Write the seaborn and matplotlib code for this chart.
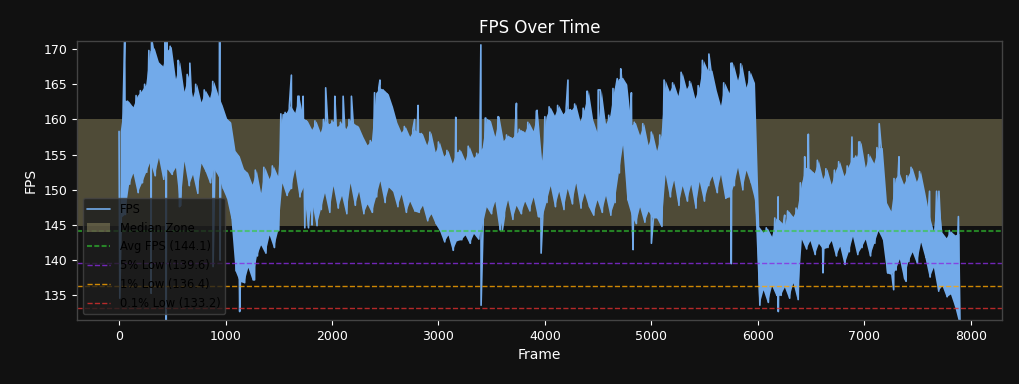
import numpy as np
import pandas as pd
import seaborn as sns
import matplotlib.pyplot as plt

# FPS trace in 40-frame blocks: upper and lower edge of the band
fps_high = [
    158.3, 162.8, 162.6, 161.8, 163.4, 164.1, 165.0, 169.8, 170.2, 168.2,
    167.6, 169.8, 170.4, 165.8, 168.2, 164.0, 166.4, 163.2, 165.0, 162.5,
    164.2, 163.1, 165.4, 163.5, 162.0, 160.2, 159.6, 155.6, 154.8, 153.0,
    152.4, 150.8, 152.8, 149.6, 153.2, 151.6, 153.4, 152.0, 160.8, 161.0,
    162.0, 161.0, 163.3, 160.2, 159.8, 158.6, 159.8, 158.2, 160.0, 159.4,
    159.8, 159.0, 159.6, 158.7, 160.0, 159.4, 159.0, 157.6, 156.4, 157.0,
    163.8, 164.5, 164.2, 163.6, 161.8, 159.6, 158.2, 159.0, 157.6, 158.6,
    158.2, 158.0, 156.4, 158.2, 155.4, 156.8, 154.8, 155.6, 153.8, 155.4,
    155.6, 154.2, 156.2, 154.6, 155.2, 156.0, 160.2, 159.8, 157.6, 160.4,
    157.0, 157.8, 157.4, 158.0, 158.6, 158.2, 159.6, 158.4, 161.2, 154.2,
    160.4, 161.8, 160.6, 162.0, 160.8, 161.6, 161.4, 162.2, 159.8, 161.6,
    164.0, 160.0, 158.2, 164.2, 159.4, 160.6, 164.4, 165.8, 166.0, 165.0,
    159.2, 159.6, 157.8, 159.4, 156.4, 158.2, 155.6, 157.8, 165.6, 164.0,
    165.2, 163.4, 166.7, 164.4, 165.4, 163.0, 164.8, 168.4, 167.0, 167.0,
    164.2, 162.0, 165.2, 163.8, 168.0, 165.6, 167.9, 164.6, 166.8, 165.2,
    144.8, 144.0, 144.6, 143.4, 146.0, 145.6, 145.0, 147.0, 146.2, 147.4,
    151.0, 153.2, 153.0, 152.4, 154.2, 151.6, 153.0, 150.8, 152.8, 154.0,
    152.0, 153.4, 154.6, 154.8, 156.8, 153.2, 155.0, 153.8, 156.0, 156.0,
    148.2, 147.0, 151.6, 152.4, 150.8, 152.0, 153.2, 151.2, 152.6, 149.6,
    146.4, 144.2, 149.8, 144.0, 143.2, 144.2, 143.6, 143.8,
]
fps_low = [
    146.0, 146.5, 150.8, 152.4, 149.6, 151.0, 152.5, 154.0, 152.0, 154.6,
    151.5, 153.0, 152.2, 153.2, 147.8, 154.1, 150.6, 152.2, 149.5, 153.8,
    152.6, 151.0, 153.0, 152.0, 150.2, 148.8, 146.0, 138.5, 137.0, 136.8,
    139.0, 137.2, 140.6, 142.2, 141.0, 143.6, 141.8, 144.2, 151.0, 149.2,
    150.2, 153.0, 149.0, 150.4, 144.6, 148.2, 144.9, 147.2, 149.6, 146.8,
    150.6, 147.4, 149.2, 146.6, 151.0, 147.8, 149.8, 146.6, 148.0, 146.8,
    149.0, 151.3, 148.2, 150.4, 149.8, 147.6, 149.4, 146.8, 148.4, 147.0,
    146.8, 147.8, 145.6, 146.6, 145.2, 144.2, 142.6, 143.6, 141.4, 142.8,
    142.9, 143.6, 142.4, 143.8, 143.0, 145.0, 147.6, 146.6, 148.4, 144.3,
    146.2, 148.6, 145.8, 147.8, 146.6, 148.4, 147.0, 149.0, 146.2, 146.0,
    148.2, 150.6, 147.6, 149.8, 147.2, 150.2, 148.0, 151.0, 147.4, 149.6,
    147.6, 146.4, 148.6, 146.8, 149.2, 146.4, 148.2, 152.4, 156.4, 148.6,
    146.5, 145.2, 147.6, 145.4, 147.0, 146.0, 146.0, 144.8, 152.2, 149.0,
    151.4, 147.8, 150.6, 148.4, 150.8, 147.4, 151.2, 148.4, 150.6, 152.0,
    149.6, 152.2, 148.8, 149.0, 150.6, 153.2, 150.0, 152.8, 151.0, 148.6,
    133.6, 135.8, 134.0, 136.4, 135.0, 135.0, 136.2, 134.6, 136.8, 134.4,
    143.0, 141.6, 142.8, 140.8, 142.4, 141.6, 141.8, 142.8, 140.6, 142.0,
    139.4, 141.2, 143.4, 140.8, 141.8, 143.0, 140.6, 142.4, 144.2, 143.0,
    138.2, 138.0, 138.6, 140.2, 137.4, 139.8, 141.2, 139.6, 142.6, 140.4,
    137.6, 139.0, 135.6, 136.4, 134.8, 135.2, 133.4, 131.0,
]
# single-frame outliers sticking out of the band
spike_frames = [7, 53, 301, 305, 431, 443, 447, 555, 567, 665, 883, 945, 949,
                1133, 1273, 1619, 1691, 1729, 1745, 1813, 1941, 2027, 2105, 2183,
                2451, 2777, 2809, 3041, 3163, 3399, 3401, 3445, 3569, 3601, 3733,
                3927, 3965, 4217, 4395, 4501, 4665, 4713, 4813, 4829, 5001, 5541,
                5749, 5751, 6191, 6193, 6253, 6299, 6441, 6475, 6613, 6885, 6949,
                7141, 7277, 7327, 7394, 7614, 7702, 7885]
spike_values = [134.6, 171.5, 135.3, 171.5, 171.2, 131.0, 171.5, 168.4, 147.6, 168.0,
                139.1, 171.5, 140.0, 132.7, 137.2, 166.3, 163.3, 163.3, 144.6, 145.0,
                164.5, 163.3, 163.3, 163.3, 165.6, 160.0, 162.0, 144.5, 160.3, 170.6,
                133.6, 160.2, 160.3, 144.3, 162.3, 161.3, 141.0, 165.6, 164.0, 164.2,
                164.4, 167.2, 163.8, 141.5, 142.4, 169.3, 168.0, 139.5, 149.0, 132.7,
                146.4, 146.4, 154.7, 157.9, 138.2, 157.5, 156.8, 159.4, 135.8, 154.7,
                137.0, 149.8, 149.8, 146.2]

median_zone = (144.9, 160.0)
stat_labels = ["Avg FPS (144.1)", "5% Low (139.6)", "1% Low (136.4)", "0.1% Low (133.2)"]
stat_values = [144.1, 139.6, 136.4, 133.2]
stat_colors = ["limegreen", "#8a2be2", "orange", "#e03030"]

line_color = "#72aaea"

block_start = np.arange(0, 40 * len(fps_high), 40)
df = pd.concat([
    pd.DataFrame({"Frame": block_start, "FPS": fps_high}),
    pd.DataFrame({"Frame": block_start + 20, "FPS": fps_low}),
    pd.DataFrame({"Frame": spike_frames, "FPS": spike_values}),
]).sort_values("Frame", kind="stable")

sns.set_style("dark", {"axes.facecolor": "#111111", "figure.facecolor": "#111111",
                       "axes.edgecolor": "#444444", "xtick.bottom": True, "ytick.left": True})

fig, ax = plt.subplots(figsize=(10.2, 3.84), dpi=100)
fig.subplots_adjust(left=0.0755, right=0.9824, bottom=0.1667, top=0.8932)

# the thousands of overlapping frames read as one solid mass
ax.fill_between(block_start + 10, fps_low, fps_high, color=line_color, lw=0, zorder=2)
sns.lineplot(data=df, x="Frame", y="FPS", color=line_color, linewidth=1.2,
             label="FPS", estimator=None, sort=True, ax=ax, zorder=2)
ax.axhspan(median_zone[0], median_zone[1], color="#e0d290", alpha=0.3,
           lw=0, label="Median Zone", zorder=1)
for val, lab, col in zip(stat_values, stat_labels, stat_colors):
    if lab.startswith("Avg"):
        ax.axhline(val, color=col, alpha=0.6, lw=1.5, dashes=(2.4, 1.1), label=lab)
    else:
        ax.axhline(val, color=col, alpha=0.8, lw=1.0, linestyle="--", label=lab)

ax.set_ylim(131.5, 171.15)
ax.set_title("FPS Over Time", color="white", fontsize=12)
ax.set_xlabel("Frame", color="white", fontsize=10)
ax.set_ylabel("FPS", color="white", fontsize=10)
ax.tick_params(colors="white", labelsize=9, length=3.5, width=0.8)
ax.grid(False)
for sp in ax.spines.values():
    sp.set_color("#444444")
    sp.set_linewidth(1)

leg = ax.legend(loc="lower left", fontsize=8.3, facecolor="#1e1e1e",
                edgecolor="#444444", framealpha=0.8)
for t in leg.get_texts():
    t.set_color("black")

plt.savefig("out.png", dpi=100, facecolor=fig.get_facecolor())
plt.close()
